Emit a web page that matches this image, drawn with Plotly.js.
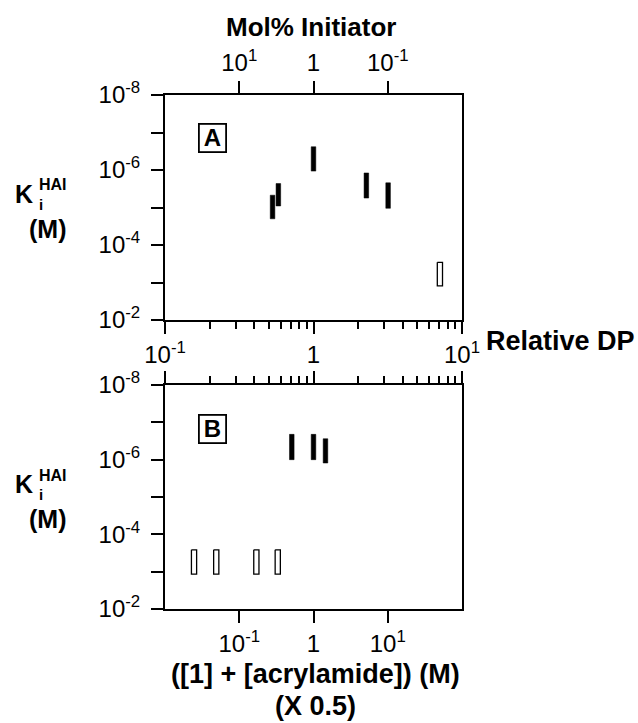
<!DOCTYPE html>
<html><head><meta charset="utf-8">
<script src="https://cdn.plot.ly/plotly-3.0.1.min.js"></script>
<style>html,body{margin:0;padding:0;background:#fff}</style>
</head><body><div id="chart" style="width:638px;height:723px"></div>
<script>
// ---- Panel A data (Relative DP vs Ki HAI range) ----
const dpFilled = [0.53, 0.58, 1.0, 2.27, 3.18];
const kiFilledLowA = [4.7e-6, 2.3e-6, 2.4e-7, 1.2e-6, 2.2e-6];
const kiFilledHighA = [2.0e-5, 9.1e-6, 1.07e-6, 5.6e-6, 1.05e-5];
const dpOpen = [7.1];
const kiOpenLowA = [2.9e-4];
const kiOpenHighA = [1.23e-3];
// ---- Panel B data (concentration vs Ki HAI range) ----
const concFilled = [0.51, 1.0, 1.45];
const kiFilledLowB = [2.1e-7, 2.1e-7, 2.75e-7];
const kiFilledHighB = [1.0e-6, 1.0e-6, 1.23e-6];
const concOpen = [0.0246, 0.049, 0.17, 0.33];
const kiOpenLowB = [2.6e-4, 2.6e-4, 2.6e-4, 2.6e-4];
const kiOpenHighB = [1.17e-3, 1.17e-3, 1.17e-3, 1.17e-3];
// ---- tick labels ----
const yTickVals = [1e-8, 1e-7, 1e-6, 1e-5, 1e-4, 1e-3, 1e-2];
const yTickText = ['10<sup>-8</sup>', '', '10<sup>-6</sup>', '', '10<sup>-4</sup>', '', '10<sup>-2</sup>'];
const dpTickVals = [0.1, 1, 10];
const dpTickText = ['10<sup>-1</sup>', '1', '10<sup>1</sup>'];
const dpMinorVals = [0.2, 0.3, 0.4, 0.5, 0.6, 0.7, 0.8, 0.9, 2, 3, 4, 5, 6, 7, 8, 9];
const molTickVals = [10, 1, 0.1];
const molTickText = ['10<sup>1</sup>', '1', '10<sup>-1</sup>'];
const concTickVals = [0.1, 1, 10];
const concTickText = ['10<sup>-1</sup>', '1', '10<sup>1</sup>'];

// ---- geometry ----
const W = 638, H = 723;
const PX0 = 165, PX1 = 462;
const A_TOP = 95, A_BOT = 320, B_TOP = 385, B_BOT = 609;
const FONT = 'Liberation Sans, Arial, Helvetica, sans-serif';
const pxPerDecA = (PX1 - PX0) / 2;
const pxPerDecB = (PX1 - PX0) / 4;

function barPolys(xs, lo, hi, halfPx, pxPerDec) {
  const f = Math.pow(10, halfPx / pxPerDec);
  const X = [], Y = [];
  xs.forEach((x, i) => {
    X.push(x / f, x * f, x * f, x / f, x / f, null);
    Y.push(lo[i], lo[i], hi[i], hi[i], lo[i], null);
  });
  return {x: X, y: Y};
}
function trace(p, xa, ya, filled) {
  return {
    type: 'scatter', mode: 'lines', x: p.x, y: p.y, xaxis: xa, yaxis: ya,
    fill: 'toself', fillcolor: filled ? '#000' : '#fff',
    line: {color: '#000', width: filled ? 0.5 : 1.3},
    hoverinfo: 'skip', showlegend: false
  };
}
// helper traces (no visible marks) so the overlaying top axes get drawn
function axisHolder(xs, xa, ya) {
  return {type: 'scatter', mode: 'markers', x: xs, y: xs.map(() => null), xaxis: xa, yaxis: ya,
          marker: {opacity: 0}, hoverinfo: 'skip', showlegend: false};
}
const data = [
  axisHolder(molTickVals, 'x2', 'y'),
  axisHolder(dpTickVals, 'x4', 'y2'),
  trace(barPolys(dpFilled, kiFilledLowA, kiFilledHighA, 2.3, pxPerDecA), 'x', 'y', true),
  trace(barPolys(dpOpen, kiOpenLowA, kiOpenHighA, 2.6, pxPerDecA), 'x', 'y', false),
  trace(barPolys(concFilled, kiFilledLowB, kiFilledHighB, 2.3, pxPerDecB), 'x3', 'y2', true),
  trace(barPolys(concOpen, kiOpenLowB, kiOpenHighB, 2.6, pxPerDecB), 'x3', 'y2', false)
];

const xDom = [PX0 / W, PX1 / W];
const yDomA = [1 - A_BOT / H, 1 - A_TOP / H];
const yDomB = [1 - B_BOT / H, 1 - B_TOP / H];
const tickFont = {family: FONT, size: 24, color: '#000'};
const common = {
  showline: true, linewidth: 2, linecolor: '#000', ticks: 'outside', ticklen: 12,
  tickwidth: 2, tickcolor: '#000', showgrid: false, zeroline: false, tickfont: tickFont,
  fixedrange: true
};
const minorDP = {tickvals: dpMinorVals, ticks: 'outside', ticklen: 7, tickwidth: 2, tickcolor: '#000', showgrid: false};

const px = v => v / W, py = v => 1 - v / H;
function ann(t, s, x, y, xanchor) {
  return {text: '<b>' + t + '</b>', font: {family: FONT, size: s, color: '#000'},
          x: px(x), y: py(y), xref: 'paper', yref: 'paper',
          showarrow: false, xanchor: xanchor || 'center', yanchor: 'middle'};
}
function boxAnn(t, x, y) {
  const a = ann(t, 24, x, y);
  a.bordercolor = '#000'; a.borderwidth = 1.8; a.borderpad = 0; a.bgcolor = '#fff';
  a.width = 25; a.height = 26;
  return a;
}
const annotations = [
  ann('Mol% Initiator', 26, 311, 27),
  ann('Relative DP', 27, 484, 341, 'left'),
  ann('([1] + [acrylamide]) (M)', 27, 315, 674),
  ann('(X 0.5)', 27, 315, 706),
  boxAnn('A', 212, 138),
  boxAnn('B', 212, 429),
  // panel A y label
  ann('K', 25, 24, 194),
  ann('HAI', 16, 37, 185, 'left'),
  ann('i', 15, 37, 204, 'left'),
  ann('(M)', 25, 47, 229),
  // panel B y label
  ann('K', 25, 24, 484),
  ann('HAI', 16, 37, 475, 'left'),
  ann('i', 15, 37, 494, 'left'),
  ann('(M)', 25, 47, 519)
];

const layout = {
  width: W, height: H, margin: {l: 0, r: 0, t: 0, b: 0},
  paper_bgcolor: '#fff', plot_bgcolor: '#fff', showlegend: false,
  font: {family: FONT, color: '#000'},
  xaxis: Object.assign({}, common, {type: 'log', range: [-1, 1], domain: xDom, anchor: 'y',
    tickvals: dpTickVals, ticktext: dpTickText, minor: minorDP}),
  xaxis2: Object.assign({}, common, {type: 'log', range: [2, -2], overlaying: 'x', side: 'top', anchor: 'y',
    tickvals: molTickVals, ticktext: molTickText}),
  yaxis: Object.assign({}, common, {type: 'log', range: [-2, -8], domain: yDomA, anchor: 'x', mirror: true,
    tickvals: yTickVals, ticktext: yTickText, ticklabelstandoff: 6}),
  xaxis3: Object.assign({}, common, {type: 'log', range: [-2, 2], domain: xDom, anchor: 'y2',
    tickvals: concTickVals, ticktext: concTickText}),
  xaxis4: Object.assign({}, common, {type: 'log', range: [-1, 1], overlaying: 'x3', side: 'top', anchor: 'y2',
    tickvals: dpTickVals, showticklabels: false, minor: minorDP}),
  yaxis2: Object.assign({}, common, {type: 'log', range: [-2, -8], domain: yDomB, anchor: 'x3', mirror: true,
    tickvals: yTickVals, ticktext: yTickText, ticklabelstandoff: 6}),
  annotations: annotations
};
Plotly.newPlot('chart', data, layout, {displayModeBar: false, staticPlot: true});
</script></body></html>
